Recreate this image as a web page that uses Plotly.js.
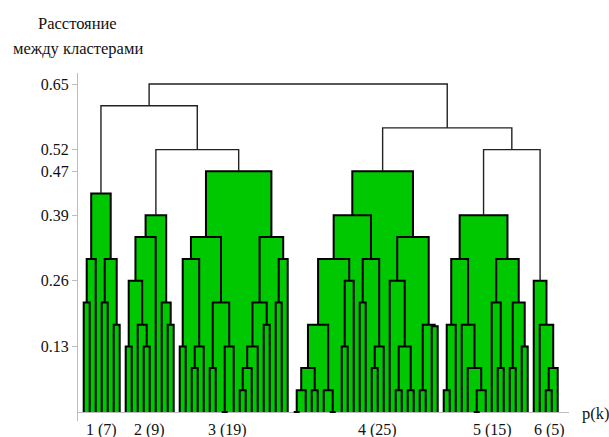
<!DOCTYPE html>
<html>
<head>
<meta charset="utf-8">
<script src="https://cdn.plot.ly/plotly-3.0.1.min.js"></script>
<style>
  html, body { margin: 0; padding: 0; background: #fff; }
  #chart { width: 609px; height: 437px; }
</style>
</head>
<body>
<div id="chart"></div>
<script>
// ---------- DATA ----------
// A leaf is L; an internal node is [mergeHeight, left, right].
const L = 'leaf';

const cluster1 = [0.433,
  [0.303, [0.217, L, L], L],
  [0.303, [0.217, L, L], [0.173, L, L]]];

const cluster2 = [0.39,
  [0.347, [0.26, [0.13, L, L], [0.173, L, [0.13, L, L]]], L],
  [0.217, L, [0.173, L, L]]];

const cluster3 = [0.477,
  [0.347,
    [0.303, [0.13, L, L], [0.13, [0.087, L, L], L]],
    [0.217, [0.087, L, L], [0.13, [0, L, L], L]]],
  [0.347,
    [0.217, [0.13, [0.087, [0.043, L, L], L], L], [0.173, L, L]],
    [0.303, [0.217, L, L], L]]];

const cluster4 = [0.477,
  [0.39,
    [0.303,
      [0.173,
        [0.087, [0.043, [0, L, L], L], [0.043, L, L]],
        [0.043, L, [0, L, L]]],
      [0.26, [0.13, L, L], L]],
    [0.303, [0.217, L, L], [0.13, [0.087, L, L], L]]],
  [0.347,
    [0.26, L, [0.13, [0.043, L, L], [0.043, L, L]]],
    [0.173, [0.043, L, L], [0.17, L, L]]]];

const cluster5 = [0.39,
  [0.303,
    [0.173, [0.043, L, L], L],
    [0.173, L, [0.087, L, [0.043, [0, L, L], L]]]],
  [0.303,
    [0.217, L, [0.087, L, L]],
    [0.217, [0.087, L, L], [0.13, L, L]]]];

const cluster6 = [0.26, L, [0.173, L, [0.087, [0.043, L, L], L]]];

const clusters = [cluster1, cluster2, cluster3, cluster4, cluster5, cluster6];

// upper levels joining the six clusters
const root = [0.65,
  [0.607, cluster1, [0.52, cluster2, cluster3]],
  [0.563, cluster4, [0.52, cluster5, cluster6]]];

const clusterLabels = ['1 (7)', '2 (9)', '3 (19)', '4 (25)', '5 (15)', '6 (5)'];
const clusterLabelPos = [3, 11, 24, 49, 68.2, 77.7];

const tickValues = [0.13, 0.26, 0.39, 0.477, 0.52, 0.65];
const tickLabels = ['0.13', '0.26', '0.39', '0.47', '0.52', '0.65'];

const yTitleLines = ['Расстояние', 'между кластерами'];
const xTitle = 'p(k)';

// ---------- LAYOUT OF THE TREE ----------
let leafIndex = 0;
function place(node) {
  if (!Array.isArray(node)) return { x: leafIndex++, h: 0, leaf: true };
  const a = place(node[1]);
  const b = place(node[2]);
  return { x: (a.x + b.x) / 2, h: node[0], a: a, b: b, src: node };
}
const tree = place(root);

const fillX = [], fillY = [];
const clLineX = [], clLineY = [];
const topLineX = [], topLineY = [];

function collect(n, inCluster) {
  if (n.leaf) return;
  const green = inCluster || clusters.indexOf(n.src) >= 0;
  const lx = green ? clLineX : topLineX;
  const ly = green ? clLineY : topLineY;
  lx.push(n.a.x, n.a.x, n.b.x, n.b.x, null);
  ly.push(n.a.h, n.h, n.h, n.b.h, null);
  if (green && n.h > 0) {
    fillX.push(n.a.x, n.a.x, n.b.x, n.b.x, null);
    fillY.push(0, n.h, n.h, 0, null);
  }
  collect(n.a, green);
  collect(n.b, green);
}
collect(tree, false);

// ---------- PLOT ----------
const FONT = 'Liberation Serif';

const traces = [
  { x: fillX, y: fillY, type: 'scatter', mode: 'lines', fill: 'toself',
    fillcolor: '#00c800', line: { width: 0, color: 'rgba(0,0,0,0)' },
    hoverinfo: 'skip', showlegend: false },
  { x: clLineX, y: clLineY, type: 'scatter', mode: 'lines',
    line: { color: '#000', width: 2 }, connectgaps: false,
    hoverinfo: 'skip', showlegend: false },
  { x: topLineX, y: topLineY, type: 'scatter', mode: 'lines',
    line: { color: '#222', width: 1.4 }, connectgaps: false,
    hoverinfo: 'skip', showlegend: false }
];

const annotations = clusterLabels.map((t, i) => ({
  text: t, x: clusterLabelPos[i], y: 0, xref: 'x', yref: 'y',
  xanchor: 'center', yanchor: 'middle', yshift: -18, showarrow: false,
  font: { family: FONT, size: 16, color: '#111' }
}));
annotations.push({
  text: xTitle, x: 1, y: 0, xref: 'paper', yref: 'y',
  xanchor: 'left', yanchor: 'middle', xshift: 11, yshift: -1, showarrow: false,
  font: { family: FONT, size: 16.5, color: '#111' }
});
annotations.push({
  text: yTitleLines[0], x: -0.001, y: 1.141, xref: 'paper', yref: 'paper',
  xanchor: 'center', yanchor: 'middle', showarrow: false,
  font: { family: FONT, size: 16.5, color: '#111' }
});
annotations.push({
  text: yTitleLines[1], x: -0.001, y: 1.069, xref: 'paper', yref: 'paper',
  xanchor: 'center', yanchor: 'middle', showarrow: false,
  font: { family: FONT, size: 16.5, color: '#111' }
});

const layout = {
  width: 609, height: 437,
  margin: { l: 78, r: 40, t: 73, b: 16, pad: 0 },
  paper_bgcolor: '#fff', plot_bgcolor: '#fff',
  font: { family: FONT, size: 16, color: '#111' },
  showlegend: false,
  xaxis: {
    range: [-0.95, 80.88], showgrid: false, zeroline: false,
    showline: false, showticklabels: false, ticks: '', fixedrange: true
  },
  yaxis: {
    range: [-0.0178, 0.6718], showgrid: false,
    zeroline: true, zerolinecolor: '#bdbdbd', zerolinewidth: 1,
    showline: true, linecolor: '#bdbdbd', linewidth: 1,
    ticks: 'outside', ticklen: 5, tickcolor: '#bdbdbd', tickwidth: 1,
    tickmode: 'array', tickvals: tickValues, ticktext: tickLabels,
    tickfont: { family: FONT, size: 16, color: '#111' }, fixedrange: true
  },
  annotations: annotations
};

Plotly.newPlot('chart', traces, layout, { staticPlot: true, displayModeBar: false });
</script>
</body>
</html>
